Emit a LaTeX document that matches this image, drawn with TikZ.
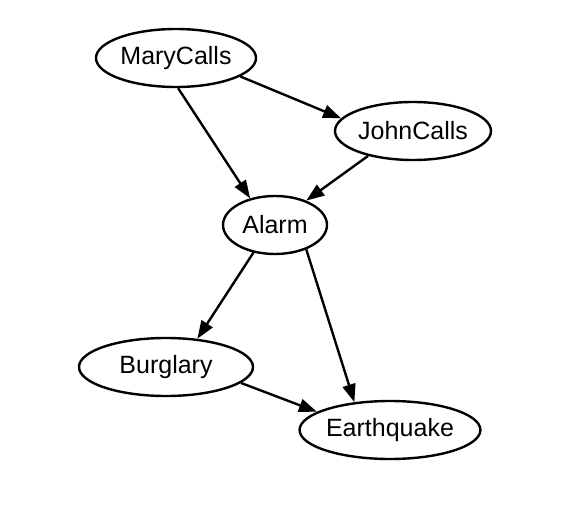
\documentclass[tikz,border=0pt]{standalone}
\usepackage{fontspec}
\setmainfont{Liberation Sans}
\usetikzlibrary{shapes.geometric, arrows.meta}

\begin{document}
\begin{tikzpicture}[x=1pt, y=-1pt, line width=2.4pt,
    var/.style={ellipse, draw, inner sep=0pt, minimum height=58pt,
      font=\fontsize{25}{30}\selectfont},
    edge/.style={-{Triangle[length=18pt, width=13pt]}}]
        \useasboundingbox (0,0) rectangle (576,508);
        \node[var, minimum width=160pt] (mary) at (176,58) {MaryCalls};
        \node[var, minimum width=156pt] (john) at (413,131) {JohnCalls};
        \node[var, minimum width=104pt] (alarm) at (275,225) {Alarm};
        \node[var, minimum width=174pt] (burglary) at (166,367) {Burglary};
        \node[var, minimum width=178pt] (quake) at (390,430) {Earthquake};
        \draw[edge] (mary.-16) -- (john.170);
        \draw[edge] (mary.-86) -- (alarm.133);
        \draw[edge] (john.-151) -- (alarm.38);
        \draw[edge] (alarm.232) -- (burglary.42);
        \draw[edge] (alarm.-38) -- (quake.142);
        \draw[edge] (burglary.-12) -- (quake.166);
      \end{tikzpicture}
\end{document}
